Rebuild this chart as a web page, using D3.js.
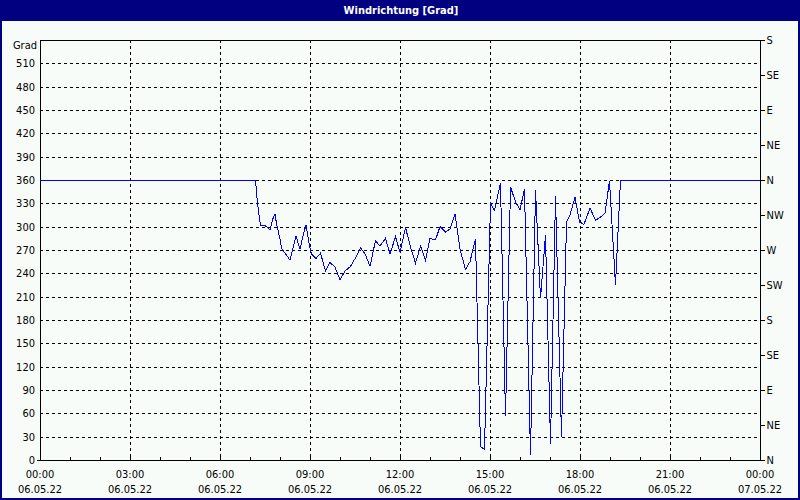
<!DOCTYPE html>
<html>
<head>
<meta charset="utf-8">
<script src="https://cdn.jsdelivr.net/npm/d3@7"></script>
<style>
  html, body { margin: 0; padding: 0; background: #f8fcf8; }
  svg { display: block; }
  .lbl { font-family: "Liberation Sans Narrow", "DejaVu Sans Condensed", "Arial Narrow", sans-serif; font-size: 11px; fill: #000; }
</style>
</head>
<body>
<div id="chart"></div>
<script>
// ---- data ----
const title = "Windrichtung [Grad]";
const unitLabel = "Grad";
const times = ["00:00","07:11","07:15","07:21","07:27","07:31","07:40","07:45","07:50","07:53",
  "08:00","08:03","08:10","08:20","08:27","08:32","08:40","08:47","08:52","08:59",
  "09:03","09:12","09:21","09:31","09:40","09:50","10:00","10:10","10:21","10:32",
  "10:41","10:51","11:00","11:11","11:20","11:31","11:40","11:51","12:00","12:11",
  "12:20","12:31","12:41","12:51","13:00","13:11","13:20","13:31","13:40","13:50",
  "14:00","14:11","14:20","14:31","14:41","14:49","15:01","15:09","15:21","15:31",
  "15:41","15:51","16:00","16:09","16:21","16:31","16:41","16:51","17:01","17:11",
  "17:23","17:33","17:40","17:50","17:59","18:08","18:20","18:31","18:40","18:50",
  "18:59","19:11","19:21","24:00"];
const direction = [360,360,330,301,302,301,296,309,316,304,
  284,272,266,257,275,288,271,291,302,275,
  265,259,266,243,254,248,232,243,249,261,
  273,264,249,282,275,285,265,287,267,299,
  276,253,275,257,285,283,300,293,297,316,
  271,245,255,284,17,14,330,321,356,56,
  351,332,322,348,6,347,208,289,21,339,
  30,306,315,338,306,303,324,308,312,317,
  359,225,360,360];
const degreeTicks = [0,30,60,90,120,150,180,210,240,270,300,330,360,390,420,450,480,510];
const compassTicks = [0,45,90,135,180,225,270,315,360,405,450,495,540];
const compassLabels = ["N","NE","E","SE","S","SW","W","NW","N","NE","E","SE","S"];
const hourTicks = [0,180,360,540,720,900,1080,1260,1440];
const timeLabels = ["00:00","03:00","06:00","09:00","12:00","15:00","18:00","21:00","00:00"];
const dateLabels = ["06.05.22","06.05.22","06.05.22","06.05.22","06.05.22","06.05.22","06.05.22","06.05.22","07.05.22"];

// ---- drawing ----
const W = 800, H = 500;
const toMin = t => { const [h, m] = t.split(":").map(Number); return h * 60 + m; };
const data = times.map((t, i) => ({ m: toMin(t), v: direction[i] }));

const svg = d3.select("#chart").append("svg").attr("width", W).attr("height", H);
svg.append("rect").attr("width", W).attr("height", H).attr("fill", "#f8fcf8");

// title bar
svg.append("rect").attr("x", 0).attr("y", 0).attr("width", W).attr("height", 21).attr("fill", "#000080");
svg.append("text").attr("x", 401).attr("y", 14).attr("text-anchor", "middle")
  .attr("fill", "#fff").attr("font-weight", "bold").attr("font-size", "11px")
  .attr("font-family", "'Liberation Sans Narrow', 'DejaVu Sans Condensed', 'Arial Narrow', sans-serif")
  .text(title);
// outer border
svg.append("rect").attr("x", 1).attr("y", 1).attr("width", W - 2).attr("height", H - 2)
  .attr("fill", "none").attr("stroke", "#000080").attr("stroke-width", 2);

const x = d3.scaleLinear().domain([0, 1440]).range([40, 760]);
const y = d3.scaleLinear().domain([0, 540]).range([460, 40]);

const g = svg.append("g").attr("shape-rendering", "crispEdges");

// horizontal grid
g.selectAll("line.hg").data(degreeTicks.filter(d => d > 0)).join("line")
  .attr("x1", x(0)).attr("x2", x(1440))
  .attr("y1", d => Math.round(y(d)) + 0.5).attr("y2", d => Math.round(y(d)) + 0.5)
  .attr("stroke", "#000").attr("stroke-dasharray", "3,3");
// vertical grid
g.selectAll("line.vg").data(hourTicks.slice(1, -1)).join("line")
  .attr("x1", d => Math.round(x(d)) + 0.5).attr("x2", d => Math.round(x(d)) + 0.5)
  .attr("y1", y(540)).attr("y2", y(0))
  .attr("stroke", "#000").attr("stroke-dasharray", "3,3");

// hourly minor ticks on bottom axis
g.selectAll("line.mt").data(d3.range(0, 1441, 60)).join("line")
  .attr("x1", d => Math.round(x(d)) + 0.5).attr("x2", d => Math.round(x(d)) + 0.5)
  .attr("y1", y(0)).attr("y2", y(0) - 3).attr("stroke", "#000");

// data line
const line = d3.line().x(d => x(d.m)).y(d => y(d.v));
svg.append("path").datum(data).attr("d", line)
  .attr("fill", "none").attr("stroke", "#0000ff").attr("stroke-width", 1)
  .attr("shape-rendering", "crispEdges");

// frame
g.append("rect").attr("x", 40.5).attr("y", 40.5).attr("width", 720).attr("height", 420)
  .attr("fill", "none").attr("stroke", "#000");
g.append("line").attr("x1", 37).attr("x2", 40).attr("y1", 460.5).attr("y2", 460.5).attr("stroke", "#000");

// left axis
const left = d3.axisLeft(y).tickValues(degreeTicks).tickSize(0).tickPadding(5);
const gl = svg.append("g").attr("transform", "translate(40,0)").call(left);
gl.select(".domain").remove();
gl.selectAll("text").attr("class", "lbl").attr("font-family", null).attr("font-size", null);
svg.append("text").attr("class", "lbl").attr("x", 37).attr("y", 49).attr("text-anchor", "end").text(unitLabel);

// right axis
const right = d3.axisRight(y).tickValues(compassTicks).tickFormat((d, i) => compassLabels[i]).tickSize(4).tickPadding(2);
const gr = svg.append("g").attr("transform", "translate(760.5,0)").attr("shape-rendering", "crispEdges").call(right);
gr.select(".domain").remove();
gr.selectAll("text").attr("class", "lbl").attr("font-family", null).attr("font-size", null);

// bottom labels
const gb = svg.append("g");
gb.selectAll("text.t").data(hourTicks).join("text").attr("class", "lbl")
  .attr("x", d => x(d)).attr("y", 478).attr("text-anchor", "middle").text((d, i) => timeLabels[i]);
gb.selectAll("text.d").data(hourTicks).join("text").attr("class", "lbl")
  .attr("x", d => x(d)).attr("y", 493).attr("text-anchor", "middle").text((d, i) => dateLabels[i]);
</script>
</body>
</html>
